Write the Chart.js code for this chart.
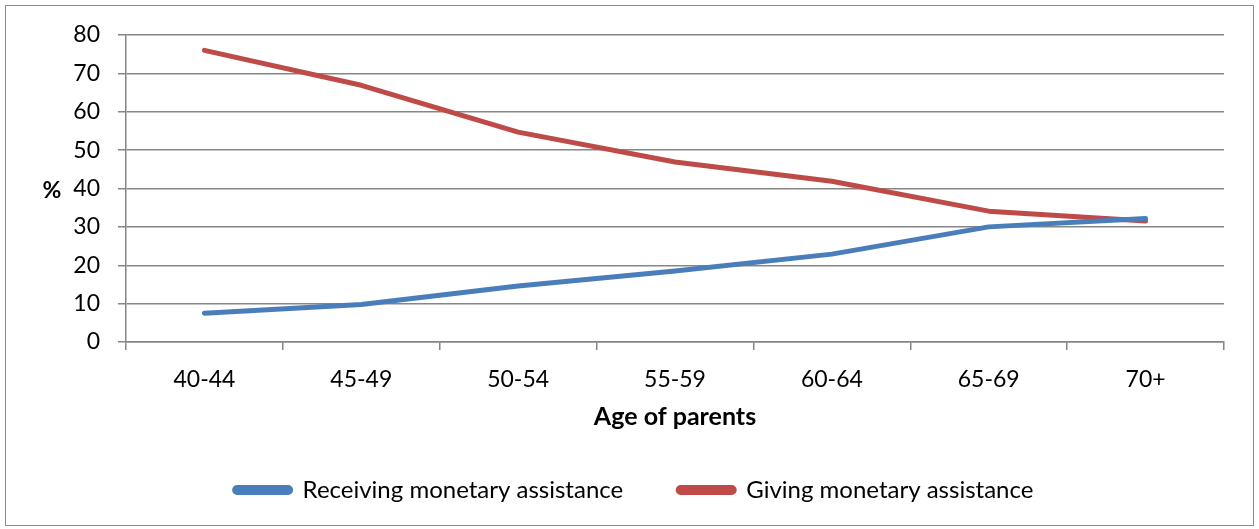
<!DOCTYPE html>
<html>
<head>
<meta charset="utf-8">
<script src="https://cdn.jsdelivr.net/npm/chart.js@4/dist/chart.umd.min.js"></script>
<style>
  html, body { margin: 0; padding: 0; background: #fff; }
  #wrap { position: absolute; left: 0; top: 0; width: 1259px; height: 529px; }
  #frame {
    position: absolute; left: 5px; top: 5px; width: 1247px; height: 519px;
    border: 1.5px solid #8c8c8c; pointer-events: none;
  }
</style>
</head>
<body>
<div id="wrap"><canvas id="ageChart"></canvas></div>
<div id="frame"></div>
<script>
// age bands of the parents and share (%) in each band
const ageGroups = ["40-44", "45-49", "50-54", "55-59", "60-64", "65-69", "70+"];
const receiving = [7.5, 9.8, 14.6, 18.5, 22.9, 30.0, 32.2];
const giving = [76.0, 66.9, 54.7, 46.9, 41.9, 34.1, 31.5];
const yTicks = [0, 10, 20, 30, 40, 50, 60, 70, 80];

const FONT = "Lato, 'Noto Sans', sans-serif";
const GRID = "#868686";

// horizontal "%" label beside the value axis
const percentLabel = {
  id: "percentLabel",
  afterDraw(chart) {
    const y = chart.scales.y.getPixelForValue(40);
    const ctx = chart.ctx;
    ctx.save();
    ctx.font = "bold 23px " + FONT;
    ctx.fillStyle = "#000";
    ctx.textAlign = "center";
    ctx.textBaseline = "middle";
    ctx.fillText("%", 52, y + 2);
    ctx.restore();
  },
};

const ctx = document.getElementById("ageChart").getContext("2d");

new Chart(ctx, {
  type: "line",
  data: {
    labels: ageGroups,
    datasets: [
      {
        label: "Receiving monetary assistance",
        data: receiving,
        borderColor: "#4a7ebb",
        backgroundColor: "#4a7ebb",
        borderWidth: 5,
        pointRadius: 0,
        tension: 0,
        borderJoinStyle: "round",
        borderCapStyle: "round",
      },
      {
        label: "Giving monetary assistance",
        data: giving,
        borderColor: "#be4b48",
        backgroundColor: "#be4b48",
        borderWidth: 5,
        pointRadius: 0,
        tension: 0,
        borderJoinStyle: "round",
        borderCapStyle: "round",
      },
    ],
  },
  options: {
    responsive: true,
    maintainAspectRatio: false,
    animation: false,
    layout: { padding: { top: 35, right: 35, left: 44, bottom: 17 } },
    plugins: {
      tooltip: { enabled: false },
      legend: {
        position: "bottom",
        labels: {
          color: "#000",
          font: { family: FONT, size: 24 },
          boxWidth: 56,
          boxHeight: 5,
          padding: 55,
          useBorderRadius: true,
          borderRadius: 2.5,
        },
      },
    },
    scales: {
      x: {
        offset: true,
        grid: {
          offset: true,
          drawOnChartArea: false,
          drawTicks: true,
          tickLength: 8,
          color: GRID,
          lineWidth: 1.5,
        },
        border: { color: GRID, width: 1.5 },
        ticks: {
          color: "#000",
          font: { family: FONT, size: 23 },
          padding: 16,
          maxRotation: 0,
        },
        title: {
          display: true,
          text: "Age of parents",
          color: "#000",
          font: { family: FONT, size: 25, weight: "bold" },
          padding: { top: 0, bottom: -9 },
        },
        afterFit(scale) {
          scale.height = 81;
        },
      },
      y: {
        min: 0,
        max: 80,
        afterBuildTicks(scale) {
          scale.ticks = yTicks.map((v) => ({ value: v }));
        },
        grid: {
          color: GRID,
          lineWidth: 1.5,
          drawTicks: true,
          tickLength: 8,
        },
        border: { color: GRID, width: 1.5 },
        ticks: {
          color: "#000",
          font: { family: FONT, size: 23 },
          padding: 18,
        },
        afterFit(scale) {
          scale.width = 82;
        },
      },
    },
  },
  plugins: [percentLabel],
});
</script>
</body>
</html>
